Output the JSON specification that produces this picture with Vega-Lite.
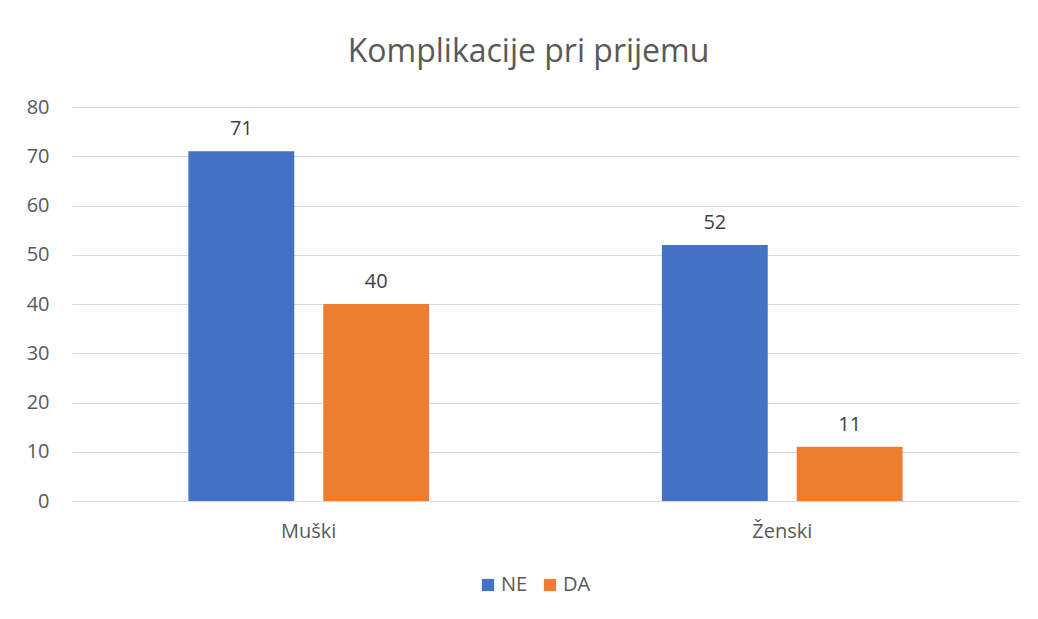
{
  "$schema": "https://vega.github.io/schema/vega-lite/v6.json",
  "autosize": "none",
  "width": 947,
  "height": 394,
  "padding": {"left": 72, "top": 107, "right": 19, "bottom": 118},
  "background": "white",
  "title": {
    "text": "Komplikacije pri prijemu",
    "font": "Open Sans",
    "fontSize": 32,
    "fontWeight": "normal",
    "color": "#595959",
    "anchor": "middle",
    "frame": "group",
    "dx": -17,
    "offset": 28
  },
  "data": {
    "values": [
      {"pol": "Muški", "komplikacije": "NE", "broj": 71},
      {"pol": "Muški", "komplikacije": "DA", "broj": 40},
      {"pol": "Ženski", "komplikacije": "NE", "broj": 52},
      {"pol": "Ženski", "komplikacije": "DA", "broj": 11}
    ]
  },
  "encoding": {
    "x": {
      "field": "pol",
      "type": "nominal",
      "sort": ["Muški", "Ženski"],
      "scale": {"paddingInner": 0, "paddingOuter": 0},
      "axis": {
        "title": null,
        "labelAngle": 0,
        "labelFont": "Open Sans",
        "labelFontSize": 20,
        "labelColor": "#595959",
        "labelPadding": 20,
        "ticks": false,
        "domain": true,
        "domainColor": "#D9D9D9",
        "domainWidth": 1
      }
    },
    "xOffset": {
      "field": "komplikacije",
      "type": "nominal",
      "sort": ["NE", "DA"],
      "scale": {"paddingInner": 0.215, "paddingOuter": 0.863}
    },
    "y": {
      "field": "broj",
      "type": "quantitative",
      "scale": {"domain": [0, 80]},
      "axis": {
        "title": null,
        "values": [0, 10, 20, 30, 40, 50, 60, 70, 80],
        "labelFont": "Open Sans",
        "labelFontSize": 20,
        "labelColor": "#595959",
        "labelPadding": 23,
        "ticks": false,
        "domain": false,
        "grid": true,
        "gridColor": "#D9D9D9",
        "gridWidth": 1
      }
    }
  },
  "layer": [
    {
      "mark": {"type": "bar"},
      "encoding": {
        "color": {
          "field": "komplikacije",
          "type": "nominal",
          "scale": {"domain": ["NE", "DA"], "range": ["#4472C4", "#ED7D31"]},
          "legend": {
            "title": null,
            "orient": "none",
            "legendX": 406,
            "legendY": 468,
            "direction": "horizontal",
            "symbolType": "square",
            "symbolSize": 150,
            "symbolStrokeWidth": 0,
            "labelFont": "Open Sans",
            "labelFontSize": 20,
            "labelColor": "#595959",
            "labelOffset": 3,
            "columnPadding": 12
          }
        }
      }
    },
    {
      "mark": {
        "type": "text",
        "baseline": "bottom",
        "dy": -12,
        "font": "Open Sans",
        "fontSize": 20,
        "color": "#404040"
      },
      "encoding": {
        "text": {"field": "broj", "type": "quantitative"}
      }
    }
  ],
  "config": {
    "view": {"stroke": null}
  }
}
